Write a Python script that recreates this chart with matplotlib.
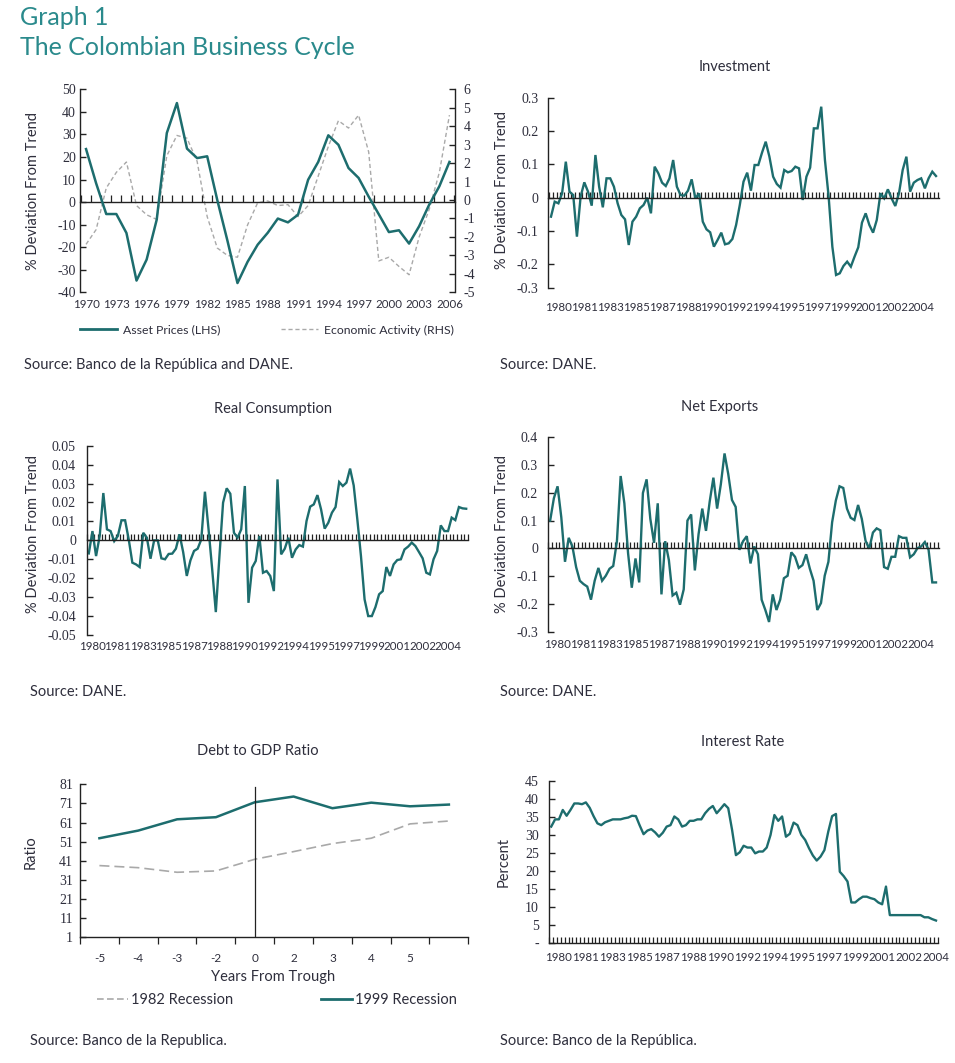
import numpy as np
import matplotlib
matplotlib.use('Agg')
import matplotlib.pyplot as plt
from matplotlib.lines import Line2D

# ---------------- data ----------------
asset_years = list(range(1970, 2007))
asset_prices = [23.5, 8.3, -5.3, -5.3, -13.7, -34.8, -25.5, -7.8, 30.6, 43.9, 23.7, 19.5, 20.3,
                0.9, -17, -35.9, -26.5, -18.9, -13.6, -7.3, -9, -5.6, 9.9, 17.8, 29.6, 25.4,
                15.1, 10.7, 2.4, -5.4, -13.3, -12.5, -18.4, -10.7, -1.1, 7, 17.8]
econ_activity = [-2.4, -1.6, 0.65, 1.5, 2.06, -0.3, -0.8, -1.05, 2.4, 3.5, 3.35, 2.1, -0.9,
                 -2.6, -3.0, -3.1, -1.35, -0.15, -0.05, -0.3, -0.25, -0.9, -0.3, 1.3, 2.9, 4.3,
                 3.9, 4.6, 2.6, -3.3, -3.1, -3.6, -4.05, -2.0, -0.5, 1.5, 4.6]
asset_xticklabels = [str(y) for y in range(1970, 2007, 3)]

quarter_labels = ['1980', '1981', '1983', '1985', '1987', '1988', '1990', '1992', '1994',
                  '1995', '1997', '1999', '2001', '2002', '2004']

investment = [-0.057, -0.012, -0.017, 0.013, 0.108, 0.018, 0.008, -0.117, 0.003, 0.046, 0.018,
              -0.024, 0.128, 0.033, -0.029, 0.058, 0.058, 0.033, -0.017, -0.052, -0.065, -0.142,
              -0.072, -0.057, -0.032, -0.022, 0.0, -0.047, 0.093, 0.073, 0.045, 0.035, 0.058,
              0.113, 0.033, 0.008, 0.006, 0.021, 0.055, -0.002, 0.013, -0.072, -0.095, -0.104,
              -0.147, -0.127, -0.105, -0.14, -0.137, -0.124, -0.082, -0.022, 0.048, 0.075, 0.021,
              0.098, 0.098, 0.135, 0.168, 0.123, 0.063, 0.041, 0.03, 0.083, 0.076, 0.08, 0.093,
              0.088, -0.007, 0.063, 0.09, 0.208, 0.208, 0.273, 0.113, 0.003, -0.147, -0.232,
              -0.227, -0.205, -0.192, -0.207, -0.177, -0.149, -0.075, -0.047, -0.082, -0.105,
              -0.067, 0.013, -0.002, 0.025, -0.002, -0.025, 0.013, 0.083, 0.123, 0.018, 0.045,
              0.053, 0.058, 0.028, 0.058, 0.078, 0.065]

consumption = [-0.0069, 0.0049, -0.0083, 0.0023, 0.025, 0.0058, 0.0049, -0.0004, 0.0023, 0.0106,
               0.0106, 0.0005, -0.0118, -0.0127, -0.0141, 0.004, 0.0014, -0.0097, 0.0, 0.0,
               -0.0095, -0.01, -0.0072, -0.007, -0.0044, 0.0032, -0.0062, -0.0188, -0.0106,
               -0.0056, -0.0044, 0.0005, 0.0257, 0.0058, -0.0153, -0.0379, -0.0083, 0.0199,
               0.0275, 0.0246, 0.004, 0.0014, 0.0058, 0.0287, -0.033, -0.0144, -0.0109, 0.0023,
               -0.0171, -0.0162, -0.0188, -0.0268, 0.0322, -0.0074, -0.0044, 0.0014, -0.0092,
               -0.0048, -0.0025, -0.0033, 0.0102, 0.0178, 0.019, 0.0239, 0.0164, 0.0062, 0.0093,
               0.0146, 0.0176, 0.0308, 0.0287, 0.0305, 0.0379, 0.029, 0.0111, -0.0083, -0.0312,
               -0.04, -0.04, -0.0352, -0.0285, -0.0268, -0.0141, -0.0188, -0.0127, -0.0104,
               -0.01, -0.0048, -0.0033, -0.0012, -0.003, -0.0062, -0.0095, -0.0171, -0.018,
               -0.01, -0.0056, 0.0079, 0.0049, 0.0049, 0.012, 0.0107, 0.0176, 0.0169, 0.0167]

net_exports = [0.1, 0.18, 0.223, 0.112, -0.048, 0.038, 0.007, -0.067, -0.116, -0.128, -0.137,
               -0.184, -0.116, -0.07, -0.116, -0.098, -0.073, -0.063, 0.026, 0.26, 0.162,
               -0.017, -0.141, -0.036, -0.122, 0.199, 0.248, 0.106, 0.02, 0.162, -0.165, 0.026,
               -0.042, -0.169, -0.159, -0.202, -0.147, 0.1, 0.122, -0.079, 0.051, 0.143, 0.063,
               0.168, 0.254, 0.143, 0.23, 0.341, 0.267, 0.174, 0.149, -0.005, 0.026, 0.044,
               -0.054, 0.007, -0.021, -0.184, -0.221, -0.264, -0.165, -0.221, -0.184, -0.107,
               -0.098, -0.014, -0.03, -0.07, -0.06, -0.021, -0.073, -0.116, -0.221, -0.196,
               -0.098, -0.048, 0.094, 0.172, 0.223, 0.217, 0.143, 0.11, 0.102, 0.156, 0.106,
               0.028, -0.001, 0.057, 0.072, 0.065, -0.067, -0.073, -0.03, -0.03, 0.044, 0.038,
               0.038, -0.032, -0.021, 0.001, 0.007, 0.023, -0.005, -0.122, -0.122]

interest_rate = [32.3, 34.3, 34.3, 36.9, 35.3, 36.9, 38.7, 38.7, 38.5, 39, 37.5, 35.2, 33.2, 32.7,
                 33.5, 33.9, 34.3, 34.3, 34.3, 34.6, 34.8, 35.3, 35.2, 32.6, 30.2, 31.2, 31.6,
                 30.7, 29.5, 30.6, 32.3, 32.7, 35.1, 34.3, 32.3, 32.7, 33.9, 33.9, 34.3, 34.3,
                 36, 37.2, 38, 36, 37.2, 38.5, 37.4, 31.4, 24.4, 25.2, 27, 26.5, 26.5, 24.9,
                 25.4, 25.4, 26.5, 30, 35.5, 33.9, 35.1, 29.5, 30.3, 33.4, 32.7, 30, 28.6, 26.3,
                 24.3, 22.9, 24, 25.8, 30.9, 35.2, 35.8, 19.8, 18.6, 17.1, 11.3, 11.3, 12.2,
                 12.9, 12.9, 12.5, 12.2, 11.3, 10.8, 15.7, 7.8, 7.8, 7.8, 7.8, 7.8, 7.8, 7.8,
                 7.8, 7.8, 7.2, 7.2, 6.7, 6.3]

debt_categories = ['-5', '-4', '-3', '-2', '0', '2', '3', '4', '5', '']
debt_1982 = [38.5, 37.4, 35.0, 35.7, 41.8, 45.8, 50.0, 52.8, 60.3, 61.8]
debt_1999 = [52.8, 56.8, 62.7, 63.8, 71.6, 74.6, 68.5, 71.4, 69.5, 70.4]

# ---------------- style ----------------
W, H = 955, 1063
TEAL = '#1d6d6e'
TITLE_C = '#2a8a8c'
GRAY = '#a9a9a9'
TXT = '#2e2e3c'
AX = '#222222'
SANS = 'Lato'
SERIF = 'Liberation Serif'
plt.rcParams['font.family'] = [SANS, 'DejaVu Sans']
plt.rcParams['axes.linewidth'] = 1.0
plt.rcParams['axes.edgecolor'] = AX

fig = plt.figure(figsize=(W / 100, H / 100), dpi=100)


def rect(l, t, r, b):
    return [l / W, 1 - b / H, (r - l) / W, (b - t) / H]


def ftext(x, y, s, **kw):
    return fig.text(x / W, 1 - y / H, s, **kw)


def yticks(ax, ticks, labels, pad):
    ax.set_yticks(ticks)
    ax.set_yticklabels(labels, fontfamily=SERIF, fontsize=10, color=TXT)
    ax.tick_params(axis='y', direction='in', length=4, width=1, pad=pad, color=AX)


def quarterly(l, t, r, b, p0, p1, values, ylim, ticks, labels, lab_start, ypad, xpad):
    ax = fig.add_axes(rect(l, t, r, b))
    n = len(values)
    per = (p1 - p0) / (n - 1)
    x = np.arange(n)
    ax.plot(x, values, color=TEAL, lw=1.7, solid_joinstyle='miter')
    ax.set_xlim(-(p0 - l) / per, n - 1 + (r - p1) / per)
    ax.set_ylim(*ylim)
    for s in ('top', 'right'):
        ax.spines[s].set_visible(False)
    ax.spines['bottom'].set_position(('data', 0))
    ax.set_xticks([])
    ax.set_xticks(np.arange(n + 1) - 0.5, minor=True)
    ax.tick_params(axis='x', which='minor', direction='in', length=4.5, width=0.9, color=AX)
    yticks(ax, ticks, labels, ypad)
    sec = ax.secondary_xaxis('bottom')
    sec.spines['bottom'].set_visible(False)
    pos = [lab_start + 7 * k for k in range(len(quarter_labels))]
    sec.set_xticks(pos)
    sec.set_xticklabels(quarter_labels, fontsize=8.3, color=TXT)
    sec.tick_params(axis='x', length=0, pad=xpad)
    return ax


# ---------------- titles ----------------
ftext(20, 25, 'Graph 1', fontsize=18, color=TITLE_C, va='baseline', ha='left')
ftext(20, 55, 'The Colombian Business Cycle', fontsize=18, color=TITLE_C, va='baseline', ha='left')

# ---------------- panel 1: asset prices ----------------
ax1 = fig.add_axes(rect(80, 89.3, 455, 292.3))
ax1.plot(asset_years, asset_prices, color=TEAL, lw=1.8, zorder=3)
ax1.set_xlim(1969.4, 2006.55)
ax1.set_ylim(-40, 50)
for s in ('top', 'right'):
    ax1.spines[s].set_visible(False)
ax1.spines['bottom'].set_position(('data', 0))
ax1.set_xticks([])
ax1.set_xticks(np.arange(1969.5, 2007, 1.0), minor=True)
ax1.tick_params(axis='x', which='minor', direction='in', length=5, width=0.9, color=AX)
yticks(ax1, list(range(-40, 51, 10)), [str(v) for v in range(-40, 51, 10)], 3)
sec1 = ax1.secondary_xaxis('bottom')
sec1.spines['bottom'].set_visible(False)
sec1.set_xticks(list(range(1970, 2007, 3)))
sec1.set_xticklabels(asset_xticklabels, fontsize=8.3, color=TXT)
sec1.tick_params(axis='x', length=0, pad=5)
ax2 = ax1.twinx()
ax2.plot(asset_years, econ_activity, color=GRAY, lw=1.0, ls=(0, (3, 2)))
ax2.set_ylim(-5, 6)
for s in ('top', 'left', 'bottom'):
    ax2.spines[s].set_visible(False)
ax2.set_yticks(list(range(-5, 7)))
ax2.set_yticklabels([str(v) for v in range(-5, 7)], fontfamily=SERIF, fontsize=10, color=TXT)
ax2.tick_params(axis='y', direction='in', length=4, width=1, pad=6, color=AX)
ax1.set_zorder(ax2.get_zorder() + 1)
ax1.patch.set_visible(False)
ftext(33, 191, '% Deviation From Trend', rotation=90, fontsize=10.5, color=TXT, ha='center', va='center')
h1 = Line2D([], [], color=TEAL, lw=2)
h2 = Line2D([], [], color=GRAY, lw=1, ls=(0, (3, 2)))
fig.legend([h1, h2], ['Asset Prices (LHS)', 'Economic Activity (RHS)'], loc='center left',
           bbox_to_anchor=(80 / W, 1 - 330 / H), ncol=2, frameon=False, fontsize=8.8,
           handlelength=3.0, handletextpad=0.5, columnspacing=5.0, borderpad=0,
           borderaxespad=0, labelcolor=TXT)
ftext(24, 369, 'Source: Banco de la República and DANE.', fontsize=10.5, color=TXT, va='baseline')

# ---------------- investment ----------------
quarterly(547.7, 97.7, 939, 288.3, 551, 936, investment, (-0.272, 0.3),
          [-0.272, -0.2, -0.1, 0, 0.1, 0.2, 0.3],
          ['-0.3', '-0.2', '-0.1', '0', '0.1', '0.2', '0.3'], 2, 6.5, 10)
ftext(735, 67, 'Investment', fontsize=10.5, color=TXT, ha='center', va='center')
ftext(501.7, 190, '% Deviation From Trend', rotation=90, fontsize=10.5, color=TXT, ha='center', va='center')
ftext(500, 369, 'Source: DANE.', fontsize=10.5, color=TXT, va='baseline')

# ---------------- consumption ----------------
cticks = [-0.05, -0.04, -0.03, -0.02, -0.01, 0, 0.01, 0.02, 0.03, 0.04, 0.05]
clabels = ['-0.05', '-0.04', '-0.03', '-0.02', '-0.01', '0', '0.01', '0.02', '0.03', '0.04', '0.05']
quarterly(87, 445.7, 468, 635, 88.3, 466.7, consumption, (-0.05, 0.05), cticks, clabels, 1, 8, 4)
ftext(273, 409, 'Real Consumption', fontsize=10.5, color=TXT, ha='center', va='center')
ftext(33, 534, '% Deviation From Trend', rotation=90, fontsize=10.5, color=TXT, ha='center', va='center')
ftext(30, 696, 'Source: DANE.', fontsize=10.5, color=TXT, va='baseline')

# ---------------- net exports ----------------
nticks = [-0.3, -0.2, -0.1, 0, 0.1, 0.2, 0.3, 0.4]
nlabels = ['-0.3', '-0.2', '-0.1', '0', '0.1', '0.2', '0.3', '0.4']
quarterly(548.3, 437, 939.3, 632, 549.3, 936, net_exports, (-0.3, 0.4), nticks, nlabels, 2, 7.5, 5)
ftext(720, 407, 'Net Exports', fontsize=10.5, color=TXT, ha='center', va='center')
ftext(501.7, 534, '% Deviation From Trend', rotation=90, fontsize=10.5, color=TXT, ha='center', va='center')
ftext(500, 696, 'Source: DANE.', fontsize=10.5, color=TXT, va='baseline')

# ---------------- debt to GDP ----------------
axd = fig.add_axes(rect(80, 784.3, 468.3, 937.3))
xd = np.arange(len(debt_categories))
axd.plot(xd, debt_1982, color=GRAY, lw=1.2, ls=(0, (6, 3)))
axd.plot(xd, debt_1999, color=TEAL, lw=1.8)
axd.axvline(debt_categories.index('0'), ymin=0, ymax=0.98, color=AX, lw=0.9)
axd.set_xlim(-0.5, len(debt_categories) - 0.5)
axd.set_ylim(1, 81)
for s in ('top', 'right'):
    axd.spines[s].set_visible(False)
axd.set_xticks(xd)
axd.set_xticklabels(debt_categories, fontsize=8.5, color=TXT)
axd.tick_params(axis='x', which='major', length=0, pad=11)
axd.set_xticks(np.arange(len(debt_categories) + 1) - 0.5, minor=True)
axd.tick_params(axis='x', which='minor', direction='out', length=5, width=0.9, color=AX)
yticks(axd, list(range(1, 82, 10)), [str(v) for v in range(1, 82, 10)], 5)
ftext(258, 751, 'Debt to GDP Ratio', fontsize=10.5, color=TXT, ha='center', va='center')
ftext(30.7, 852, 'Ratio', rotation=90, fontsize=10.5, color=TXT, ha='center', va='center')
ftext(273, 977, 'Years From Trough', fontsize=10.5, color=TXT, ha='center', va='center')
hd1 = Line2D([], [], color=GRAY, lw=1.2, ls=(0, (4, 2)))
hd2 = Line2D([], [], color=TEAL, lw=2)
fig.legend([hd1, hd2], ['1982 Recession', '1999 Recession'], loc='center left',
           bbox_to_anchor=(96.7 / W, 1 - 1000 / H), ncol=2, frameon=False, fontsize=10.5,
           handlelength=2.15, handletextpad=0.2, columnspacing=6.0, borderpad=0,
           borderaxespad=0, labelcolor=TXT)
ftext(30, 1045, 'Source: Banco de la Republica.', fontsize=10.5, color=TXT, va='baseline')

# ---------------- interest rate ----------------
axi = fig.add_axes(rect(549.3, 780.7, 938, 943.3))
ni = len(interest_rate)
p0, p1 = 551, 936
per = (p1 - p0) / (ni - 1)
xi = np.arange(ni)
axi.plot(xi, interest_rate, color=TEAL, lw=1.7)
axi.set_xlim(-(p0 - 549.3) / per, ni - 1 + (938 - p1) / per)
axi.set_ylim(0, 45)
for s in ('top', 'right'):
    axi.spines[s].set_visible(False)
axi.set_xticks([2 + 7 * k for k in range(len(quarter_labels))])
axi.set_xticklabels(quarter_labels, fontsize=8.3, color=TXT)
axi.tick_params(axis='x', which='major', length=0, pad=6)
axi.set_xticks(np.arange(ni + 1) - 0.5, minor=True)
axi.tick_params(axis='x', which='minor', direction='in', length=4.5, width=0.9, color=AX)
yticks(axi, list(range(0, 46, 5)), ['-'] + [str(v) for v in range(5, 46, 5)], 7.5)
ftext(743, 742, 'Interest Rate', fontsize=10.5, color=TXT, ha='center', va='center')
ftext(503.3, 862, 'Percent', rotation=90, fontsize=10.5, color=TXT, ha='center', va='center')
ftext(500, 1045, 'Source: Banco de la República.', fontsize=10.5, color=TXT, va='baseline')

fig.savefig('out.png', dpi=100, facecolor='white')
